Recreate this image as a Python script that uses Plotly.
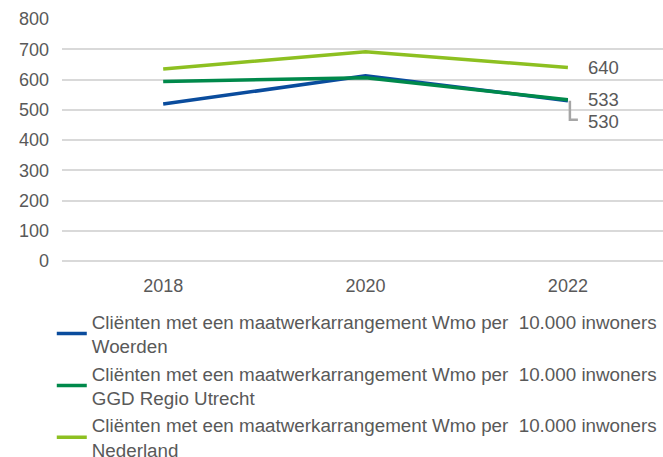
import plotly.graph_objects as go

years = ["2018", "2020", "2022"]
woerden = [519, 612, 530]
ggd_regio = [593, 606, 533]
nederland = [635, 692, 640]

label_base = "Cliënten met een maatwerkarrangement Wmo per  10.000 inwoners"
series = [
    ("Woerden", woerden, "#0A4C9D"),
    ("GGD Regio Utrecht", ggd_regio, "#00894B"),
    ("Nederland", nederland, "#8DC021"),
]

FONT = "Liberation Sans, Arial, sans-serif"
TEXT = "#595959"
GRID = "#D9D9D9"

fig = go.Figure()
for name, vals, color in series:
    fig.add_trace(go.Scatter(
        x=years, y=vals, mode="lines", name=f"{label_base}<br>{name}",
        line=dict(color=color, width=3.5),
    ))

# end-of-line value labels
fig.add_annotation(x=2, y=nederland[2], text=str(nederland[2]), xanchor="left",
                   xshift=18, showarrow=False, font=dict(size=18.5, color=TEXT))
fig.add_annotation(x=2, y=ggd_regio[2], text=str(ggd_regio[2]), xanchor="left",
                   xshift=18, showarrow=False, font=dict(size=18.5, color=TEXT))
fig.add_annotation(x=2, y=woerden[2], text=str(woerden[2]), xanchor="left",
                   xshift=18, yshift=-21, showarrow=False, font=dict(size=18.5, color=TEXT))

# leader line to the shifted Woerden label
fig.add_shape(type="path", xref="x", yref="y", xsizemode="pixel", ysizemode="pixel",
              xanchor=2, yanchor=woerden[2], path="M2,0 L2,-19 L10,-19",
              line=dict(color="#A6A6A6", width=2.5))

fig.update_layout(
    width=663, height=457,
    margin=dict(l=62, r=0, t=19, b=196, autoexpand=False),
    paper_bgcolor="white", plot_bgcolor="white",
    font=dict(family=FONT, color=TEXT, size=18),
    showlegend=True,
    legend=dict(
        x=-0.017, y=-0.172, xanchor="left", yanchor="top",
        font=dict(size=18.8, color=TEXT), bgcolor="rgba(0,0,0,0)",
        tracegroupgap=0,
    ),
    xaxis=dict(type="category", range=[-0.5, 2.47], showgrid=False,
               showline=False, zeroline=False, ticks="",
               tickfont=dict(size=18, color=TEXT), ticklabelstandoff=12),
    yaxis=dict(range=[0, 800], dtick=100, showgrid=True, gridcolor=GRID,
               gridwidth=2, zeroline=True, zerolinecolor=GRID, zerolinewidth=2,
               showline=False, ticks="", tickfont=dict(size=18, color=TEXT),
               ticklabelstandoff=12),
)

fig.write_html("out.html")
